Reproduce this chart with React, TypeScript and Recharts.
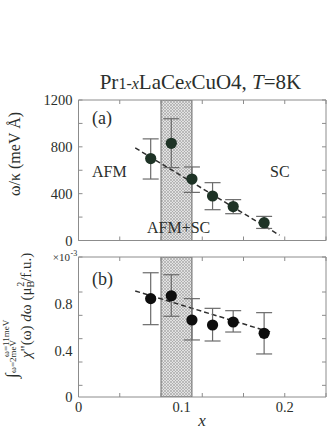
import React from 'react';
import { ComposedChart, XAxis, YAxis, Scatter, ErrorBar, Line, ReferenceArea } from 'recharts';

// ---- data ----
const dopingX = [0.07, 0.09, 0.11, 0.13, 0.15, 0.18];

const omegaKappa = [700, 830, 525, 380, 290, 152];
const omegaKappaLow = [525, 623, 411, 263, 229, 103];
const omegaKappaHigh = [868, 1040, 628, 494, 349, 206];

const chiIntegral = [0.843, 0.868, 0.66, 0.617, 0.643, 0.546];
const chiLow = [0.62, 0.692, 0.489, 0.48, 0.557, 0.369];
const chiHigh = [1.065, 1.048, 0.843, 0.76, 0.74, 0.723];

const fitAX = [0.055, 0.195];
const fitAY = [791, 45];
const fitBX = [0.055, 0.188];
const fitBY = [0.909, 0.551];

const bandX = [0.08, 0.11];

const xMinorTicks = [0, 0.02, 0.04, 0.06, 0.08, 0.1, 0.12, 0.14, 0.16, 0.18, 0.2, 0.22, 0.24];
const xLabelTicks = [0, 0.1, 0.2];
const yATicks = [0, 400, 800, 1200];
const yAMinorTicks = [0, 200, 400, 600, 800, 1000, 1200];
const yBTicks = [0, 0.4, 0.8];
const yBMinorTicks = [0, 0.1, 0.2, 0.3, 0.4, 0.5, 0.6, 0.7, 0.8, 0.9, 1.0, 1.1, 1.2];

const dataA = dopingX.map((x, i) => ({
  x,
  y: omegaKappa[i],
  err: [omegaKappa[i] - omegaKappaLow[i], omegaKappaHigh[i] - omegaKappa[i]],
}));
const dataB = dopingX.map((x, i) => ({
  x,
  y: chiIntegral[i],
  err: [chiIntegral[i] - chiLow[i], chiHigh[i] - chiIntegral[i]],
}));
const fitA = fitAX.map((x, i) => ({ x, y: fitAY[i] }));
const fitB = fitBX.map((x, i) => ({ x, y: fitBY[i] }));

const FONT = '"Liberation Serif", "Times New Roman", serif';
const FRAME = '#8c8c8c';
const TEXT = '#2a2f2c';

const makeDot = (fill: string) => (props: any) => {
  const { cx, cy } = props;
  if (cx == null || cy == null) return <g />;
  return <circle cx={cx} cy={cy} r={5.6} fill={fill} />;
};

const Hatch = ({ id }: { id: string }) => (
  <defs>
    <pattern id={id} width={3} height={3} patternUnits="userSpaceOnUse">
      <rect width={3} height={3} fill="#e2e2e2" />
      <path d="M0,0 L3,3 M3,0 L0,3" stroke="#a0a0a0" strokeWidth={0.6} />
    </pattern>
  </defs>
);

const noTick = () => <g />;

const YTick = (props: any) => {
  const { x, y, payload } = props;
  return (
    <text x={x} y={y} dy="0.36em" textAnchor="end" fontSize={14.5} fontFamily={FONT} fill={TEXT}>
      {payload.value}
    </text>
  );
};
const XTick = (props: any) => {
  const { x, y, payload } = props;
  return (
    <text x={x} y={y} dy="0.72em" textAnchor="middle" fontSize={14.5} fontFamily={FONT} fill={TEXT}>
      {payload.value}
    </text>
  );
};

function Panel({
  data, fit, height, margin, xDomain, yDomain, yTicks, yMinor, hatchId, dotColor, showXLabels,
}: any) {
  return (
    <ComposedChart width={332} height={height} margin={margin}>
      <Hatch id={hatchId} />
      <XAxis xAxisId="xb" dataKey="x" type="number" domain={xDomain} ticks={xMinorTicks}
        orientation="bottom" mirror allowDataOverflow tick={noTick} tickSize={4}
        stroke={FRAME} axisLine={{ stroke: FRAME }} tickLine={{ stroke: FRAME }} />
      <XAxis xAxisId="xt" dataKey="x" type="number" domain={xDomain} ticks={xMinorTicks}
        orientation="top" mirror allowDataOverflow tick={noTick} tickSize={4}
        stroke={FRAME} axisLine={{ stroke: FRAME }} tickLine={{ stroke: FRAME }} />
      {showXLabels && (
        <XAxis xAxisId="xl" dataKey="x" type="number" domain={xDomain} ticks={xLabelTicks}
          orientation="bottom" allowDataOverflow tickSize={0} tickMargin={5} axisLine={false}
          tickLine={false} height={33} tick={XTick} />
      )}
      <YAxis yAxisId="yl" dataKey="y" type="number" domain={yDomain} ticks={yTicks}
        orientation="left" allowDataOverflow width={40} tickSize={0} tickMargin={6}
        axisLine={false} tickLine={false} tick={YTick} />
      <YAxis yAxisId="ylm" dataKey="y" type="number" domain={yDomain} ticks={yMinor}
        orientation="left" mirror allowDataOverflow tick={noTick} tickSize={4}
        axisLine={{ stroke: FRAME }} tickLine={{ stroke: FRAME }} />
      <YAxis yAxisId="yrm" dataKey="y" type="number" domain={yDomain} ticks={yMinor}
        orientation="right" mirror allowDataOverflow tick={noTick} tickSize={4}
        axisLine={{ stroke: FRAME }} tickLine={{ stroke: FRAME }} />
      <ReferenceArea xAxisId="xb" yAxisId="yl" x1={bandX[0]} x2={bandX[1]}
        y1={yDomain[0]} y2={yDomain[1]}
        fill={`url(#${hatchId})`} fillOpacity={1} stroke="#6a6a6a" strokeWidth={1} ifOverflow="hidden" />
      <Line data={fit} dataKey="y" xAxisId="xb" yAxisId="yl" type="linear" stroke="#2e2e2e"
        strokeWidth={1.5} strokeDasharray="5 3" dot={false} activeDot={false} isAnimationActive={false} />
      <Scatter data={data} dataKey="y" xAxisId="xb" yAxisId="yl" shape={makeDot(dotColor)}
        isAnimationActive={false}>
        <ErrorBar dataKey="err" direction="y" width={8} stroke="#6b6b6b" strokeWidth={1.2}
          isAnimationActive={false} />
      </Scatter>
    </ComposedChart>
  );
}

export default function App() {
  return (
    <div style={{ position: 'absolute', left: 0, top: 0, width: 332, height: 430, background: '#fff', overflow: 'hidden' }}>
      <div style={{ position: 'absolute', left: 0, top: 0 }}>
        <Panel data={dataA} fit={fitA} height={250}
          margin={{ top: 100, right: 6, bottom: 9.5, left: 38.5 }}
          xDomain={[0, 0.24]} yDomain={[0, 1200]} yTicks={yATicks} yMinor={yAMinorTicks}
          hatchId="hatchA" dotColor="#1e3326" showXLabels={false} />
      </div>
      <div style={{ position: 'absolute', left: 0, top: 250 }}>
        <Panel data={dataB} fit={fitB} height={180}
          margin={{ top: 7, right: 6, bottom: 0, left: 38.5 }}
          xDomain={[0, 0.24]} yDomain={[0, 1.2]} yTicks={yBTicks} yMinor={yBMinorTicks}
          hatchId="hatchB" dotColor="#0d0d0d" showXLabels={true} />
      </div>
      <svg width={332} height={430} style={{ position: 'absolute', left: 0, top: 0, pointerEvents: 'none' }}
        fontFamily={FONT} fill={TEXT}>
        <text x={200.5} y={88.5} fontSize={21} textAnchor="middle">
          Pr<tspan fontSize={16}>1-</tspan><tspan fontSize={16} fontStyle="italic">x</tspan>LaCe<tspan fontSize={16} fontStyle="italic">x</tspan>CuO4, <tspan fontStyle="italic">T</tspan>=8K
        </text>
        <text transform="translate(20,154) rotate(-90)" fontSize={16} textAnchor="middle">ω/κ (meV Å)</text>
        <g transform="translate(2,378) rotate(-90)">
          <text x={0} y={15} fontSize={17}>∫</text>
          <text x={21} y={7} fontSize={9}>ω=11meV</text>
          <text x={5} y={14} fontSize={9}>ω=2meV</text>
          <text x={20} y={29} fontSize={15}>
            <tspan fontStyle="italic">χ</tspan>"(ω) <tspan fontStyle="italic">d</tspan>ω (μ<tspan fontSize={10} dy={3}>B</tspan><tspan fontSize={10} dx={-6} dy={-10}>2</tspan><tspan dy={7}>/f.u.)</tspan>
          </text>
        </g>
        <text x={92} y={124} fontSize={18}>(a)</text>
        <text x={92} y={285} fontSize={18}>(b)</text>
        <text x={92} y={177} fontSize={16}>AFM</text>
        <text x={270} y={177} fontSize={16}>SC</text>
        <text x={147} y={233} fontSize={16}>AFM+SC</text>
        <text x={70} y={261} fontSize={11} textAnchor="end">×10</text>
        <text x={70.5} y={256} fontSize={8}>-3</text>
        <text x={202} y={426} fontSize={17} fontStyle="italic" textAnchor="middle">x</text>
      </svg>
    </div>
  );
}
